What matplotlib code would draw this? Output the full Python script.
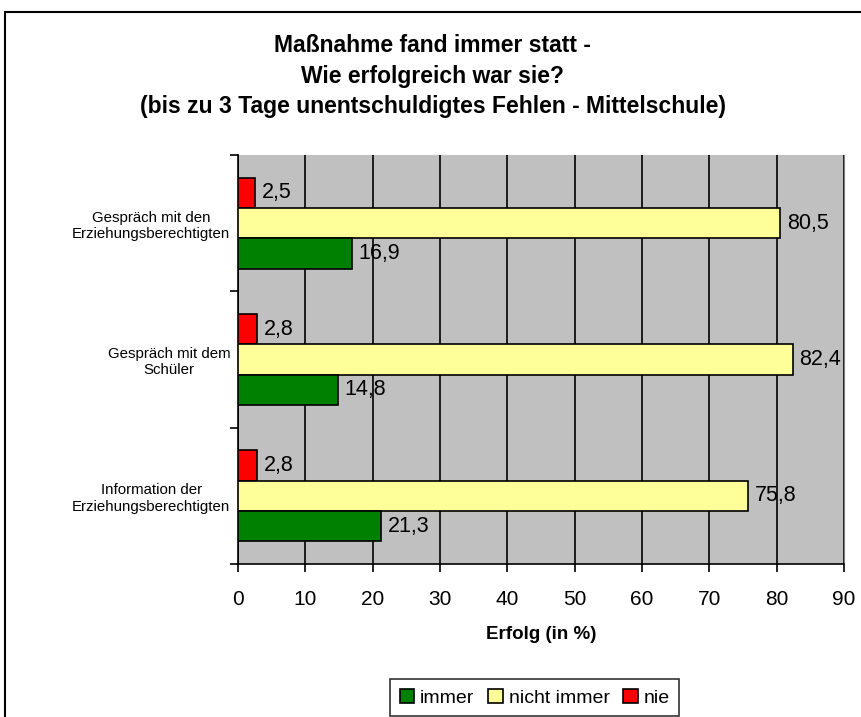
import matplotlib.pyplot as plt
import matplotlib.patches as mpatches
import numpy as np

plt.rcParams['font.family'] = ['Liberation Sans', 'DejaVu Sans']

categories = ['Gespräch mit den\nErziehungsberechtigten',
              'Gespräch mit dem\nSchüler',
              'Information der\nErziehungsberechtigten']
immer = [16.9, 14.8, 21.3]
nicht_immer = [80.5, 82.4, 75.8]
nie = [2.5, 2.8, 2.8]

series = [('nie', nie, '#FF0000'),
          ('nicht immer', nicht_immer, '#FFFF99'),
          ('immer', immer, '#008000')]

W, H = 862, 717
fig = plt.figure(figsize=(W / 100, H / 100), dpi=100)
# plot area in pixels: x 238..844, y 155..564 (from top)
ax = fig.add_axes([238 / W, 1 - 564 / H, (844 - 238) / W, (564 - 155) / H])

# outer chart frame (runs past right and bottom edge like the original)
fig.patches.append(mpatches.Rectangle((5 / W, -0.1), 1.2, 1 - 12 / H + 0.1,
                                      transform=fig.transFigure, fill=False,
                                      edgecolor='black', linewidth=1.5))

ax.set_facecolor('#C0C0C0')
y = np.arange(len(categories))
h = 0.223
bars = {}
for i, (name, vals, col) in enumerate(series):
    b = ax.barh(y + (i - 1) * h, vals, height=h, color=col,
                edgecolor='black', linewidth=1.2, label=name, zorder=3)
    bars[name] = b
    for rect, v in zip(b, vals):
        ax.text(v + 1.0, rect.get_y() + h / 2, f'{v:.1f}'.replace('.', ','),
                va='center', ha='left', fontsize=15.5, zorder=4)

ax.set_xlim(0, 90)
ax.set_ylim(2.5, -0.5)
ax.set_xticks(range(0, 91, 10))
ax.tick_params(axis='x', labelsize=15, length=6, width=1.2, direction='out', pad=13)
ax.xaxis.grid(True, color='black', linewidth=1.2, zorder=1)
ax.set_axisbelow(True)

ax.set_yticks(y)
ax.set_yticklabels(categories, fontsize=10.8)
for lab in ax.get_yticklabels():
    lab.set_multialignment('center')
ax.tick_params(axis='y', length=0, pad=5.5)
ax.set_yticks([-0.5, 0.5, 1.5, 2.5], minor=True)
ax.tick_params(axis='y', which='minor', length=6, direction='out', width=1.2)

ax.spines['top'].set_visible(False)
ax.spines['right'].set_color('#808080')
ax.spines['left'].set_linewidth(1.2)
ax.spines['bottom'].set_linewidth(1.2)

ax.set_xlabel('Erfolg (in %)', fontsize=13.5, fontweight='bold', labelpad=12)

fig.text(0.502, 1 - 76 / H, 'Maßnahme fand immer statt -\nWie erfolgreich war sie?\n'
         '(bis zu 3 Tage unentschuldigtes Fehlen - Mittelschule)',
         ha='center', va='center', fontsize=16.5, fontweight='bold',
         linespacing=1.4)

handles = [bars['immer'], bars['nicht immer'], bars['nie']]
leg = fig.legend(handles, ['immer', 'nicht immer', 'nie'], loc='upper left',
                 bbox_to_anchor=(390 / W, 1 - 679 / H), ncol=3,
                 fontsize=14, frameon=True, fancybox=False, edgecolor='black',
                 handlelength=0.75, handleheight=0.75, handletextpad=0.3,
                 columnspacing=0.7, borderpad=0.5, borderaxespad=0)
leg.get_frame().set_linewidth(1.2)

fig.savefig('out.png', dpi=100)
